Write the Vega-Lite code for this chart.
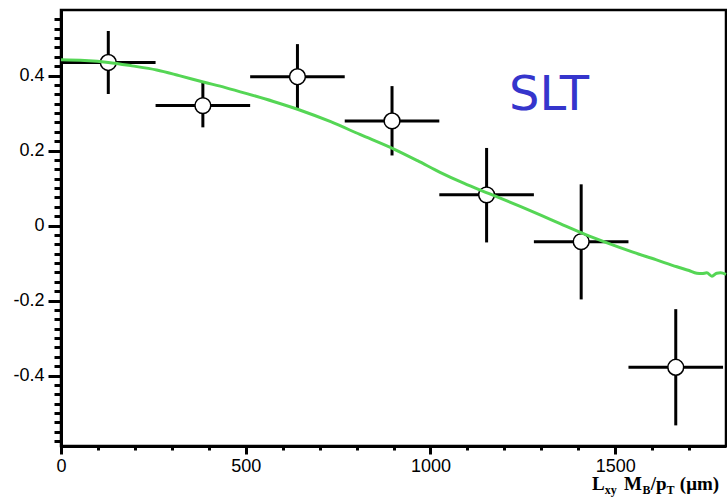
{
  "$schema": "https://vega.github.io/schema/vega-lite/v6.json",
  "width": 665,
  "height": 436,
  "autosize": {"type": "none"},
  "padding": {"left": 61, "top": 10, "right": 1, "bottom": 52},
  "background": "white",
  "config": {
    "view": {"stroke": "black", "strokeWidth": 2.5},
    "axis": {"grid": false, "title": null, "tickColor": "black", "domainColor": "black", "labelColor": "black"}
  },
  "datasets": {
    "pts": [
      {"x": 128, "xlo": 0, "xhi": 256, "y": 0.435, "ylo": 0.351, "yhi": 0.519},
      {"x": 384, "xlo": 256, "xhi": 512, "y": 0.320, "ylo": 0.262, "yhi": 0.383},
      {"x": 640, "xlo": 512, "xhi": 768, "y": 0.397, "ylo": 0.310, "yhi": 0.484},
      {"x": 896, "xlo": 768, "xhi": 1024, "y": 0.279, "ylo": 0.187, "yhi": 0.372},
      {"x": 1152, "xlo": 1024, "xhi": 1280, "y": 0.082, "ylo": -0.045, "yhi": 0.207},
      {"x": 1408, "xlo": 1280, "xhi": 1536, "y": -0.043, "ylo": -0.197, "yhi": 0.110},
      {"x": 1664, "xlo": 1536, "xhi": 1792, "y": -0.378, "ylo": -0.533, "yhi": -0.223}
    ],
    "curve": [
      {"x": 0, "y": 0.442},
      {"x": 64, "y": 0.440},
      {"x": 128, "y": 0.435},
      {"x": 192, "y": 0.426},
      {"x": 259, "y": 0.415},
      {"x": 320, "y": 0.400},
      {"x": 385, "y": 0.383},
      {"x": 445, "y": 0.368},
      {"x": 503, "y": 0.352},
      {"x": 575, "y": 0.331},
      {"x": 644, "y": 0.309},
      {"x": 730, "y": 0.277},
      {"x": 809, "y": 0.243},
      {"x": 901, "y": 0.204},
      {"x": 965, "y": 0.173},
      {"x": 1026, "y": 0.142},
      {"x": 1090, "y": 0.113},
      {"x": 1159, "y": 0.085},
      {"x": 1243, "y": 0.051},
      {"x": 1300, "y": 0.027},
      {"x": 1351, "y": 0.005},
      {"x": 1417, "y": -0.023},
      {"x": 1480, "y": -0.047},
      {"x": 1548, "y": -0.071},
      {"x": 1610, "y": -0.091},
      {"x": 1667, "y": -0.110},
      {"x": 1700, "y": -0.120},
      {"x": 1721, "y": -0.127},
      {"x": 1735, "y": -0.128},
      {"x": 1748, "y": -0.126},
      {"x": 1762, "y": -0.135},
      {"x": 1775, "y": -0.127},
      {"x": 1785, "y": -0.126},
      {"x": 1800, "y": -0.130}
    ]
  },
  "resolve": {"axis": {"x": "independent", "y": "independent"}},
  "layer": [
    {
      "data": {"name": "pts"},
      "mark": {"type": "rule", "color": "black", "strokeWidth": 3},
      "encoding": {
        "x": {"field": "xlo", "type": "quantitative", "scale": {"domain": [0, 1800], "nice": false, "zero": false},
          "axis": {"orient": "bottom", "values": [0, 500, 1000, 1500], "format": "d", "tickSize": 8, "tickWidth": 3, "domainWidth": 3,
            "labelFont": "Liberation Sans", "labelFontSize": 18, "labelPadding": 3, "labelFlush": false, "labelOverlap": false}},
        "x2": {"field": "xhi"},
        "y": {"field": "y", "type": "quantitative", "scale": {"domain": [-0.588, 0.575], "nice": false, "zero": false},
          "axis": {"orient": "left", "values": [-0.4, -0.2, 0, 0.2, 0.4], "format": ".1~f", "tickSize": 13, "tickWidth": 3, "domainWidth": 3,
            "labelFont": "Liberation Sans", "labelFontSize": 18, "labelPadding": 4, "labelFlush": false, "labelOverlap": false,
            "labelExpr": "replace(datum.label, '\u2212', '-')"}}
      }
    },
    {
      "data": {"name": "curve"},
      "mark": {"type": "line", "color": "#55d655", "strokeWidth": 3, "interpolate": "monotone", "opacity": 0},
      "encoding": {
        "x": {"field": "x", "type": "quantitative",
          "axis": {"orient": "bottom", "values": [100, 200, 300, 400, 600, 700, 800, 900, 1100, 1200, 1300, 1400, 1600, 1700],
            "tickSize": 4, "tickWidth": 3, "labels": false, "domain": false}},
        "y": {"field": "y", "type": "quantitative",
          "axis": {"orient": "left", "values": [-0.575, -0.55, -0.525, -0.5, -0.475, -0.45, -0.425, -0.375, -0.35, -0.325, -0.3, -0.275, -0.25, -0.225, -0.175, -0.15, -0.125, -0.1, -0.075, -0.05, -0.025, 0.025, 0.05, 0.075, 0.1, 0.125, 0.15, 0.175, 0.225, 0.25, 0.275, 0.3, 0.325, 0.35, 0.375, 0.425, 0.45, 0.475, 0.5, 0.525, 0.55],
            "tickSize": 7, "tickWidth": 3, "labels": false, "domain": false}}
      }
    },
    {
      "data": {"name": "pts"},
      "mark": {"type": "rule", "color": "black", "strokeWidth": 3},
      "encoding": {
        "x": {"field": "x", "type": "quantitative", "axis": null},
        "y": {"field": "ylo", "type": "quantitative", "axis": null},
        "y2": {"field": "yhi"}
      }
    },
    {
      "data": {"name": "pts"},
      "mark": {"type": "point", "shape": "circle", "filled": true, "fill": "white", "stroke": "black", "strokeWidth": 1.5, "size": 250, "opacity": 1},
      "encoding": {
        "x": {"field": "x", "type": "quantitative", "axis": null},
        "y": {"field": "y", "type": "quantitative", "axis": null}
      }
    },
    {
      "data": {"name": "curve"},
      "mark": {"type": "line", "color": "#55d655", "strokeWidth": 3, "interpolate": "monotone"},
      "encoding": {
        "x": {"field": "x", "type": "quantitative", "axis": null},
        "y": {"field": "y", "type": "quantitative", "axis": null}
      }
    },
    {
      "data": {"values": [{}]},
      "mark": {"type": "text", "text": "SLT", "font": "DejaVu Sans", "fontSize": 48, "color": "#3535cc", "align": "center", "baseline": "alphabetic"},
      "encoding": {"x": {"datum": 1321, "type": "quantitative", "axis": null}, "y": {"datum": 0.308, "type": "quantitative", "axis": null}}
    },
    {
      "data": {"values": [{}]},
      "mark": {"type": "text", "text": "L", "font": "Liberation Serif", "fontWeight": "bold", "fontSize": 19, "color": "black", "align": "left", "baseline": "alphabetic"},
      "encoding": {"x": {"datum": 1437, "type": "quantitative", "axis": null}, "y": {"datum": -0.7055, "type": "quantitative", "axis": null}}
    },
    {
      "data": {"values": [{}]},
      "mark": {"type": "text", "text": "xy", "font": "Liberation Serif", "fontWeight": "bold", "fontSize": 12, "color": "black", "align": "left", "baseline": "alphabetic"},
      "encoding": {"x": {"datum": 1472, "type": "quantitative", "axis": null}, "y": {"datum": -0.716, "type": "quantitative", "axis": null}}
    },
    {
      "data": {"values": [{}]},
      "mark": {"type": "text", "text": "M", "font": "Liberation Serif", "fontWeight": "bold", "fontSize": 19, "color": "black", "align": "left", "baseline": "alphabetic"},
      "encoding": {"x": {"datum": 1524, "type": "quantitative", "axis": null}, "y": {"datum": -0.7055, "type": "quantitative", "axis": null}}
    },
    {
      "data": {"values": [{}]},
      "mark": {"type": "text", "text": "B", "font": "Liberation Serif", "fontWeight": "bold", "fontSize": 12, "color": "black", "align": "left", "baseline": "alphabetic"},
      "encoding": {"x": {"datum": 1574, "type": "quantitative", "axis": null}, "y": {"datum": -0.716, "type": "quantitative", "axis": null}}
    },
    {
      "data": {"values": [{}]},
      "mark": {"type": "text", "text": "/p", "font": "Liberation Serif", "fontWeight": "bold", "fontSize": 19, "color": "black", "align": "left", "baseline": "alphabetic"},
      "encoding": {"x": {"datum": 1596, "type": "quantitative", "axis": null}, "y": {"datum": -0.7055, "type": "quantitative", "axis": null}}
    },
    {
      "data": {"values": [{}]},
      "mark": {"type": "text", "text": "T", "font": "Liberation Serif", "fontWeight": "bold", "fontSize": 12, "color": "black", "align": "left", "baseline": "alphabetic"},
      "encoding": {"x": {"datum": 1639, "type": "quantitative", "axis": null}, "y": {"datum": -0.716, "type": "quantitative", "axis": null}}
    },
    {
      "data": {"values": [{}]},
      "mark": {"type": "text", "text": "(μm)", "font": "Liberation Serif", "fontWeight": "bold", "fontSize": 19, "color": "black", "align": "left", "baseline": "alphabetic"},
      "encoding": {"x": {"datum": 1675, "type": "quantitative", "axis": null}, "y": {"datum": -0.7055, "type": "quantitative", "axis": null}}
    }
  ]
}
